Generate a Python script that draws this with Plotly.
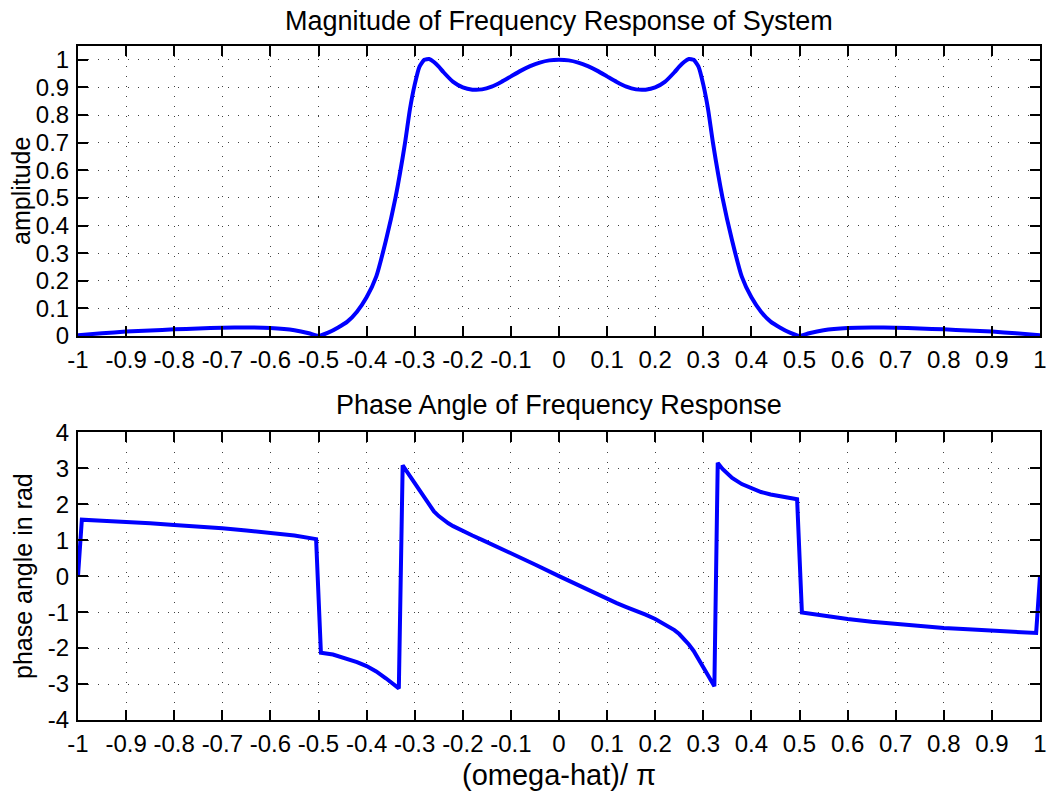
import plotly.graph_objects as go

# ---------------- data ----------------
mag_x = [-1.00, -0.95, -0.90, -0.85, -0.80, -0.75, -0.70, -0.65, -0.60, -0.55, -0.52, -0.50,
         -0.48, -0.46, -0.44, -0.42, -0.40, -0.38, -0.36, -0.34, -0.32, -0.31, -0.30, -0.29,
         -0.28, -0.27, -0.26, -0.25, -0.24, -0.22, -0.20, -0.18, -0.16, -0.14, -0.12, -0.10,
         -0.08, -0.06, -0.04, -0.02, 0.00,
         0.02, 0.04, 0.06, 0.08, 0.10, 0.12, 0.14, 0.16, 0.18, 0.20, 0.22, 0.24, 0.25,
         0.26, 0.27, 0.28, 0.29, 0.30, 0.31, 0.32, 0.34, 0.36, 0.38, 0.40, 0.42, 0.44,
         0.46, 0.48, 0.50, 0.52, 0.55, 0.60, 0.65, 0.70, 0.75, 0.80, 0.85, 0.90, 0.95, 1.00]
mag_y = [0.003, 0.010, 0.016, 0.020, 0.024, 0.027, 0.030, 0.031, 0.029, 0.021, 0.010, 0.000,
         0.012, 0.030, 0.052, 0.088, 0.140, 0.215, 0.345, 0.500, 0.700, 0.820, 0.910, 0.975,
         1.000, 1.003, 0.992, 0.975, 0.955, 0.920, 0.900, 0.892, 0.893, 0.903, 0.920, 0.940,
         0.960, 0.977, 0.990, 0.998, 1.000,
         0.998, 0.990, 0.977, 0.960, 0.940, 0.920, 0.903, 0.893, 0.892, 0.900, 0.920, 0.955, 0.975,
         0.992, 1.003, 1.000, 0.975, 0.910, 0.820, 0.700, 0.500, 0.345, 0.215, 0.140, 0.088, 0.052,
         0.030, 0.012, 0.000, 0.010, 0.021, 0.029, 0.031, 0.030, 0.027, 0.024, 0.020, 0.016, 0.010, 0.003]

phase_x = [-1.000, -0.992, -0.95, -0.90, -0.85, -0.80, -0.75, -0.70, -0.65, -0.60, -0.55, -0.505,
           -0.495, -0.47, -0.44, -0.42, -0.40, -0.38, -0.36, -0.345, -0.333,
           -0.325, -0.315, -0.30, -0.29, -0.28, -0.27, -0.26, -0.25, -0.24, -0.23, -0.22, -0.21,
           -0.20, -0.18, -0.16, -0.14, -0.12, -0.10, -0.05,
           0.00, 0.05, 0.10, 0.12, 0.14, 0.16, 0.18, 0.20, 0.21, 0.22, 0.23, 0.24, 0.25, 0.26, 0.27,
           0.28, 0.29, 0.30, 0.31, 0.323,
           0.330, 0.34, 0.35, 0.36, 0.38, 0.40, 0.42, 0.44, 0.47, 0.495,
           0.505, 0.55, 0.60, 0.65, 0.70, 0.75, 0.80, 0.85, 0.90, 0.95, 0.992, 1.000]
phase_y = [0.00, 1.57, 1.54, 1.51, 1.47, 1.42, 1.38, 1.33, 1.27, 1.21, 1.13, 1.03,
           -2.13, -2.18, -2.29, -2.39, -2.50, -2.65, -2.84, -2.98, -3.12,
           3.08, 2.88, 2.59, 2.38, 2.15, 1.96, 1.80, 1.67, 1.56, 1.47, 1.39, 1.32,
           1.25, 1.13, 1.01, 0.89, 0.77, 0.645, 0.325,
           0.00, -0.32, -0.64, -0.75, -0.86, -0.96, -1.07, -1.19, -1.26, -1.33, -1.41, -1.50, -1.61,
           -1.74, -1.90, -2.08, -2.29, -2.52, -2.76, -3.06,
           3.15, 2.98, 2.84, 2.73, 2.56, 2.44, 2.34, 2.27, 2.20, 2.14,
           -1.01, -1.10, -1.19, -1.27, -1.33, -1.39, -1.44, -1.48, -1.52, -1.55, -1.58, 0.00]

x_ticks = [-1, -0.9, -0.8, -0.7, -0.6, -0.5, -0.4, -0.3, -0.2, -0.1, 0,
           0.1, 0.2, 0.3, 0.4, 0.5, 0.6, 0.7, 0.8, 0.9, 1]
x_ticktext = ["-1", "-0.9", "-0.8", "-0.7", "-0.6", "-0.5", "-0.4", "-0.3", "-0.2", "-0.1", "0",
              "0.1", "0.2", "0.3", "0.4", "0.5", "0.6", "0.7", "0.8", "0.9", "1"]
mag_ticks = [0, 0.1, 0.2, 0.3, 0.4, 0.5, 0.6, 0.7, 0.8, 0.9, 1]
mag_ticktext = ["0", "0.1", "0.2", "0.3", "0.4", "0.5", "0.6", "0.7", "0.8", "0.9", "1"]
phase_ticks = [-4, -3, -2, -1, 0, 1, 2, 3, 4]
phase_ticktext = ["-4", "-3", "-2", "-1", "0", "1", "2", "3", "4"]

title_top = "Magnitude of Frequency Response of System"
title_bottom = "Phase Angle of Frequency Response"
ylabel_top = "amplitude"
ylabel_bottom = "phase angle in rad"
xlabel_bottom = "(omega-hat)/ \u03c0"

# ---------------- figure ----------------
FONT = "Liberation Sans, Arial, Helvetica, sans-serif"
W, H = 1047, 793
ML, MR, MT, MB = 78, 7, 46, 73
PH = H - MT - MB  # plot-area height in px


def py2paper(py):
    return (H - MB - py) / PH


def px2paper(px):
    return (px - ML) / (W - ML - MR)


fig = go.Figure()
fig.add_trace(go.Scatter(x=mag_x, y=mag_y, mode="lines",
                         line=dict(color="#0000ff", width=4, shape="spline", smoothing=0.5),
                         xaxis="x", yaxis="y", showlegend=False))
fig.add_trace(go.Scatter(x=phase_x, y=phase_y, mode="lines",
                         line=dict(color="#0000ff", width=4),
                         xaxis="x2", yaxis="y2", showlegend=False))

axis_common = dict(
    showline=True, linecolor="black", linewidth=2, mirror="ticks",
    ticks="inside", ticklen=10, tickwidth=1.5, tickcolor="black",
    showgrid=True, gridcolor="rgba(0,0,0,0.75)", gridwidth=1, griddash="1px,9px",
    zeroline=False, tickfont=dict(family=FONT, size=24, color="black"),
    tickangle=0, automargin=False, ticklabeloverflow="allow",
)

fig.update_layout(
    width=W, height=H,
    margin=dict(l=ML, r=MR, t=MT, b=MB),
    paper_bgcolor="white", plot_bgcolor="white",
    font=dict(family=FONT, color="black"),
    xaxis=dict(axis_common, domain=[0, 1], range=[-1, 1], anchor="y",
               tickmode="array", tickvals=x_ticks, ticktext=x_ticktext, ticklabelstandoff=1),
    yaxis=dict(axis_common, domain=[py2paper(336), 1], range=[0, 1.05], anchor="x",
               tickmode="array", tickvals=mag_ticks, ticktext=mag_ticktext, ticklabelstandoff=2),
    xaxis2=dict(axis_common, domain=[0, 1], range=[-1, 1], anchor="y2",
                tickmode="array", tickvals=x_ticks, ticktext=x_ticktext, ticklabelstandoff=1),
    yaxis2=dict(axis_common, domain=[0, py2paper(432.3)], range=[-4, 4], anchor="x2",
                tickmode="array", tickvals=phase_ticks, ticktext=phase_ticktext, ticklabelstandoff=2),
)

ann = [
    dict(text=title_top, x=0.5, y=py2paper(21), size=27, angle=0),
    dict(text=title_bottom, x=0.5, y=py2paper(405), size=27, angle=0),
    dict(text=ylabel_top, x=px2paper(21), y=py2paper(191), size=25, angle=-90),
    dict(text=ylabel_bottom, x=px2paper(23), y=py2paper(576), size=25, angle=-90),
    dict(text=xlabel_bottom, x=0.5, y=py2paper(775), size=29, angle=0),
]
for a in ann:
    fig.add_annotation(text=a["text"], x=a["x"], y=a["y"], xref="paper", yref="paper",
                       xanchor="center", yanchor="middle", showarrow=False, textangle=a["angle"],
                       font=dict(family=FONT, size=a["size"], color="black"))

fig.write_html(
    "out.html",
    config={"displayModeBar": False},
    post_script="document.body.style.margin='0';document.body.style.overflow='hidden';",
)
